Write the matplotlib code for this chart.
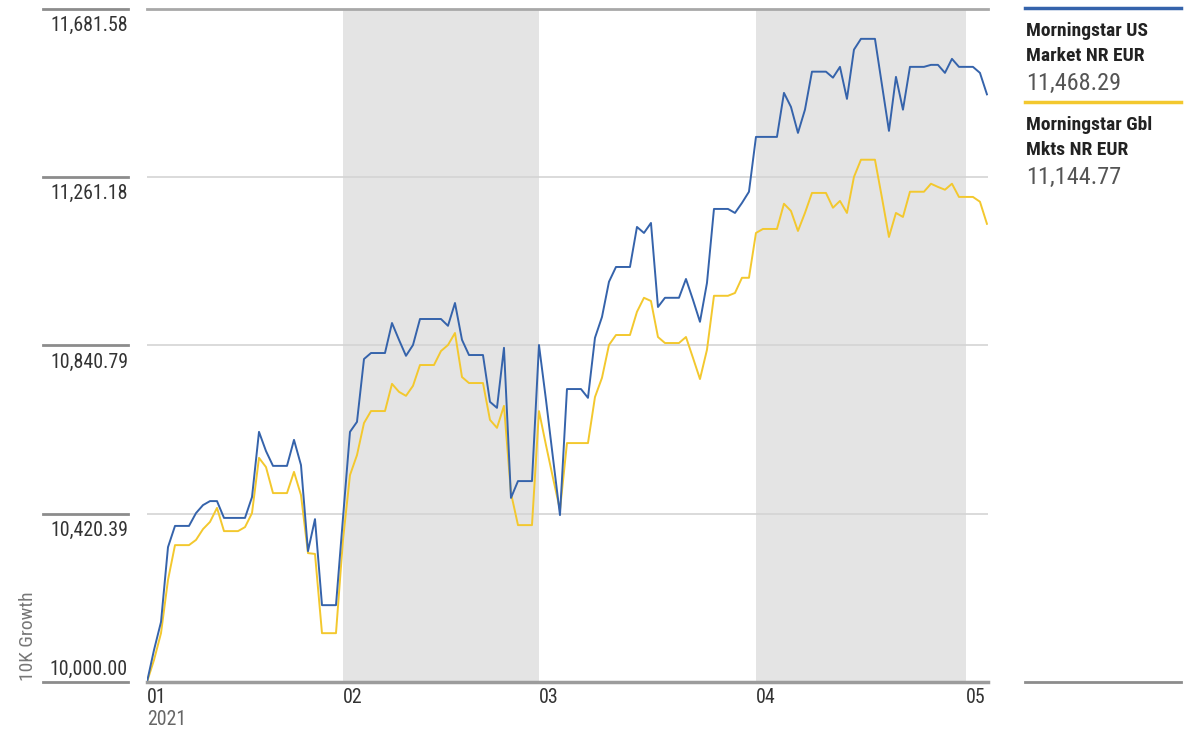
import numpy as np
import pandas as pd
import matplotlib
matplotlib.use('Agg')
from matplotlib import pyplot as plt
import matplotlib.dates as mdates
from matplotlib.lines import Line2D
from matplotlib.transforms import blended_transform_factory, offset_copy

plt.rcParams['font.family'] = ['Roboto Condensed', 'Liberation Sans Narrow', 'Roboto', 'DejaVu Sans']

# daily values, Mon 4 Jan 2021 .. Tue 4 May 2021 (weekends carried flat)
dates = pd.date_range('2021-01-04', '2021-05-04', freq='D')

us_market = [
    10000, 10080, 10150, 10337, 10390, 10390, 10390,
    10422, 10442, 10452, 10452, 10410, 10410, 10410,
    10410, 10462, 10625, 10577, 10540, 10540, 10540,
    10605, 10542, 10327, 10407, 10192, 10192, 10192,
    10410, 10625, 10650, 10807, 10822, 10822, 10822,
    10897, 10855, 10815, 10842, 10907, 10907, 10907,
    10907, 10890, 10947, 10855, 10817, 10817, 10817,
    10700, 10685, 10835, 10460, 10502, 10502, 10502,
    10842, 10705, 10560, 10417, 10732, 10732, 10732,
    10710, 10860, 10912, 11000, 11037, 11037, 11037,
    11137, 11122, 11147, 10937, 10960, 10960, 10960,
    11007, 10955, 10900, 10997, 11182, 11182, 11182,
    11172, 11197, 11225, 11362, 11362, 11362, 11362,
    11472, 11437, 11372, 11430, 11525, 11525, 11525,
    11510, 11537, 11457, 11580, 11607, 11607, 11607,
    11492, 11377, 11512, 11430, 11537, 11537, 11537,
    11542, 11542, 11522, 11557, 11537, 11537, 11537,
    11522, 11468.29,
]

gbl_markets = [
    10000, 10055, 10122, 10255, 10342, 10342, 10342,
    10355, 10382, 10400, 10435, 10377, 10377, 10377,
    10387, 10422, 10560, 10537, 10472, 10472, 10472,
    10525, 10467, 10322, 10320, 10122, 10122, 10122,
    10355, 10517, 10567, 10647, 10677, 10677, 10677,
    10745, 10725, 10715, 10740, 10792, 10792, 10792,
    10827, 10842, 10872, 10762, 10747, 10747, 10747,
    10655, 10635, 10690, 10472, 10392, 10392, 10392,
    10677, 10592, 10510, 10430, 10597, 10597, 10597,
    10597, 10712, 10760, 10842, 10867, 10867, 10867,
    10925, 10960, 10952, 10862, 10847, 10847, 10847,
    10862, 10810, 10757, 10830, 10965, 10965, 10965,
    10972, 11010, 11010, 11122, 11132, 11132, 11132,
    11195, 11177, 11127, 11172, 11222, 11222, 11222,
    11185, 11202, 11172, 11262, 11305, 11305, 11305,
    11210, 11112, 11172, 11162, 11225, 11225, 11225,
    11245, 11237, 11230, 11245, 11212, 11212, 11212,
    11200, 11144.77,
]

y_ticks = [10000.00, 10420.39, 10840.79, 11261.18, 11681.58]
month_ticks = ['2021-01-04', '2021-02-01', '2021-03-01', '2021-04-01', '2021-05-01']
month_labels = ['01', '02', '03', '04', '05']
shaded = [('2021-02-01', '2021-03-01'), ('2021-04-01', '2021-05-01')]

series_names = ['Morningstar US\nMarket NR EUR', 'Morningstar Gbl\nMkts NR EUR']
blue = '#3563ab'
yellow = '#f3c82e'

W, H = 1194, 731
fig = plt.figure(figsize=(W / 100, H / 100), dpi=100)
ax = fig.add_axes([147 / W, 1 - 682 / H, (988 - 147) / W, (682 - 9) / H])

x = mdates.date2num(dates)
for a, b in shaded:
    ax.axvspan(mdates.date2num(pd.Timestamp(a)), mdates.date2num(pd.Timestamp(b)),
               color='#e4e4e4', lw=0, zorder=0)

for v in y_ticks[1:-1]:
    ax.axhline(v, color='#d4d4d4', lw=1.2, zorder=1)
ax.axhline(y_ticks[-1], color='#a8a8a8', lw=2, zorder=1, clip_on=False)
ax.axhline(y_ticks[0], color='#9c9c9c', lw=2.5, zorder=4, clip_on=False)

ax.plot(x, gbl_markets, color=yellow, lw=1.4, zorder=3)
ax.plot(x, us_market, color=blue, lw=1.4, zorder=3)

ax.set_xlim(x[0], x[-1] + 0.15)
ax.set_ylim(y_ticks[0], y_ticks[-1])
ax.set_xticks([])
ax.set_yticks([])
for s in ax.spines.values():
    s.set_visible(False)

# y labels with short rules at the left
trans_y = blended_transform_factory(fig.transFigure, ax.transData)
for i, v in enumerate(y_ticks):
    fig.add_artist(Line2D([43 / W, 128 / W], [v, v], transform=trans_y,
                          color='#8c8c8c', lw=2))
    dy = 7 if i == 0 else -22
    fig.text(128 / W, v, f'{v:,.2f}', ha='right', va='baseline', fontsize=14.3,
             color='#333333', transform=offset_copy(trans_y, fig=fig, y=dy, units='dots'))

fig.text(28 / W, 1 - 681 / H, '10K Growth', rotation=90, ha='center', va='bottom',
         fontsize=14, color='#777777')

# month labels
trans_x = blended_transform_factory(ax.transData, fig.transFigure)
for d, lab in zip(month_ticks, month_labels):
    xd = mdates.date2num(pd.Timestamp(d))
    fig.text(xd, 1 - 703 / H, lab, ha='left', va='baseline', fontsize=14.3,
             color='#333333', transform=trans_x)
fig.text(x[0], 1 - 725 / H, '2021', ha='left', va='baseline', fontsize=14.3,
         color='#666666', transform=trans_x)

# right-hand legend
finals = [us_market[-1], gbl_markets[-1]]
colors = [blue, yellow]
tops = [8, 102]
for name, val, c, top in zip(series_names, finals, colors, tops):
    fig.add_artist(Line2D([1025 / W, 1181 / W], [1 - top / H] * 2, color=c, lw=2.5))
    l1, l2 = name.split('\n')
    fig.text(1026 / W, 1 - (top + 28) / H, l1, fontsize=14, fontweight='bold',
             color='#222222', va='baseline')
    fig.text(1026 / W, 1 - (top + 53) / H, l2, fontsize=14, fontweight='bold',
             color='#222222', va='baseline')
    fig.text(1026 / W, 1 - (top + 82) / H, f'{val:,.2f}', fontsize=17.5,
             color='#555555', va='baseline')
fig.add_artist(Line2D([1025 / W, 1181 / W], [1 - 682 / H] * 2, color='#8c8c8c', lw=2))

fig.savefig('out.png', dpi=100)
